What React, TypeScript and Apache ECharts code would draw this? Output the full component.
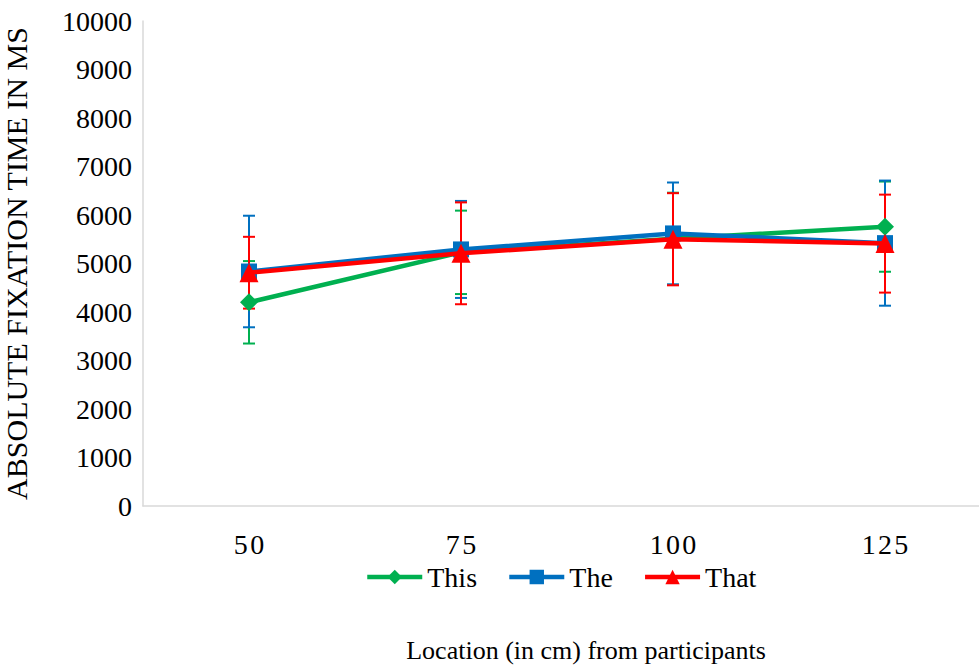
import React, { useEffect, useRef } from "react";
import * as echarts from "echarts";

const categories = ["50", "75", "100", "125"];
const seriesNames = ["This", "The", "That"];
const thisMean = [4200, 5230, 5510, 5760];
const theMean = [4835, 5290, 5620, 5420];
const thatMean = [4810, 5210, 5500, 5410];
const thisErr = [850, 860, 950, 930];
const theErr = [1150, 1000, 1050, 1290];
const thatErr = [740, 1050, 950, 1010];
const yTicks = [0, 1000, 2000, 3000, 4000, 5000, 6000, 7000, 8000, 9000, 10000];

const COLORS = ["#00B050", "#0070C0", "#FF0000"];
const SYMBOLS = ["diamond", "rect", "triangle"];
const SYMBOL_SIZES = [18, 16, 19];
const FONT = "serif";

export default function App() {
  const ref = useRef<HTMLDivElement>(null);
  useEffect(() => {
    if (!ref.current) return;
    const chart = echarts.init(ref.current, null, { renderer: "svg" });
    const means = [thisMean, theMean, thatMean];
    const errs = [thisErr, theErr, thatErr];

    const errorSeries = means.map((m, si) => ({
      type: "custom",
      name: seriesNames[si] + " error",
      z: 1,
      data: m.map((v, i) => [i, v - errs[si][i], v + errs[si][i]]),
      renderItem: (params: any, api: any) => {
        const x = api.value(0);
        const lo = api.coord([x, api.value(1)]);
        const hi = api.coord([x, api.value(2)]);
        const hw = 6;
        const style = { stroke: COLORS[si], lineWidth: 2, fill: "none" };
        return {
          type: "group",
          children: [
            { type: "line", shape: { x1: hi[0], y1: hi[1], x2: lo[0], y2: lo[1] }, style },
            { type: "line", shape: { x1: hi[0] - hw, y1: hi[1], x2: hi[0] + hw, y2: hi[1] }, style },
            { type: "line", shape: { x1: lo[0] - hw, y1: lo[1], x2: lo[0] + hw, y2: lo[1] }, style },
          ],
        };
      },
    }));

    const lineSeries = means.map((m, si) => ({
      type: "line",
      name: seriesNames[si],
      data: m,
      z: 3 + si,
      symbol: SYMBOLS[si],
      symbolSize: SYMBOL_SIZES[si],
      lineStyle: { color: COLORS[si], width: 4.5 },
      itemStyle: { color: COLORS[si] },
    }));

    chart.setOption({
      animation: false,
      textStyle: { fontFamily: FONT },
      grid: { left: 143, right: -12, top: 21, bottom: 160, containLabel: false, outerBoundsMode: "none" },
      legend: {
        data: seriesNames,
        left: 365,
        top: 563,
        padding: 0,
        itemWidth: 55,
        itemHeight: 18,
        itemGap: 30,
        lineStyle: { width: 4.5 },
        textStyle: { fontFamily: FONT, fontSize: 28, color: "#000" },
      },
      xAxis: {
        type: "category",
        data: categories,
        boundaryGap: true,
        axisLine: { lineStyle: { color: "#D9D9D9", width: 1.5 } },
        axisTick: { show: false },
        axisLabel: {
          fontFamily: FONT,
          fontSize: 28,
          color: "#000",
          margin: 24,
          formatter: (v: string) => v.split("").join("\u200A"),
        },
      },
      yAxis: {
        type: "value",
        min: 0,
        max: 10000,
        interval: 1000,
        name: "ABSOLUTE FIXATION TIME IN MS",
        nameLocation: "middle",
        nameGap: 112,
        nameRotate: 90,
        nameTextStyle: { fontFamily: FONT, fontSize: 30, color: "#000" },
        axisLine: { show: true, lineStyle: { color: "#D9D9D9", width: 1.5 } },
        axisTick: { show: false },
        splitLine: { show: false },
        axisLabel: {
          fontFamily: FONT,
          fontSize: 28,
          color: "#000",
          margin: 11,
          formatter: (v: number) => (yTicks.includes(v) ? String(v) : ""),
        },
      },
      graphic: [
        {
          type: "text",
          x: 586,
          y: 650,
          style: {
            text: "Location (in cm) from participants",
            fontFamily: FONT,
            fontSize: 26,
            fill: "#000",
            textAlign: "center",
            textVerticalAlign: "middle",
          },
        },
      ],
      series: [...errorSeries, ...lineSeries],
    });
    return () => chart.dispose();
  }, []);
  return <div ref={ref} style={{ width: 979, height: 666, position: "absolute", left: 0, top: 0, background: "#fff" }} />;
}
